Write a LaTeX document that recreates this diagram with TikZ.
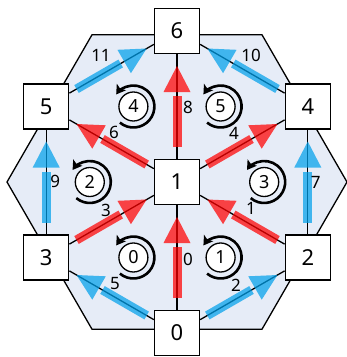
\documentclass[tikz,border=0pt]{standalone}
\usepackage{fontspec}
\setmainfont{Noto Sans}
\usetikzlibrary{calc,arrows.meta}

\definecolor{hexbg}{RGB}{230,236,247}
\definecolor{flowred}{RGB}{255,0,0}
\definecolor{flowblue}{RGB}{0,160,235}

\tikzset{
  vbox/.style={draw, line width=1.3pt, fill=white, minimum size=45pt, inner sep=0pt,
               font=\fontsize{22}{26}\selectfont},
  link/.style={line width=1.3pt},
  elab/.style={inner sep=0pt, font=\fontsize{17}{20}\selectfont},
  flab/.style={draw, circle, line width=1.3pt, fill=white, minimum size=29pt, inner sep=0pt,
               font=\fontsize{18}{21}\selectfont},
  turn/.style={line width=2.6pt, -{Stealth[length=9pt,width=11pt,inset=2pt]}},
}

% thick translucent flow arrow along the link from #2 to #3
\newcommand\flowarrow[3]{%
  \coordinate (fa-tip) at ($(#3)!35pt!(#2)$);
  \coordinate (fa-base) at ($(#3)!61pt!(#2)$);
  \draw[#1, line width=9pt, opacity=0.72] ($(#2)!35pt!(#3)$) -- ($(#3)!65pt!(#2)$);
  \fill[#1, opacity=0.72] (fa-tip) -- ($(fa-base)!13.5pt!90:(fa-tip)$)
    -- ($(fa-base)!13.5pt!-90:(fa-tip)$) -- cycle;
}

% numbered face with a counter-clockwise turning arrow around it
\newcommand\face[5]{%
  \node[flab] (#1) at ($0.33333*(#2)+0.33333*(#3)+0.33334*(#4)$) {#5};
  \draw[turn] (#1.center) ++(-230:21) arc[start angle=-230, end angle=-505, radius=21];
}

\begin{document}
\begin{tikzpicture}[x=1pt, y=-1pt]
  \useasboundingbox (0,0) rectangle (347,357);

  % hexagonal background
  \coordinate (mid) at (177,182);
  \draw[line width=1.3pt, fill=hexbg]
    ($(mid)+(0:170)$) -- ($(mid)+(60:170)$) -- ($(mid)+(120:170)$)
    -- ($(mid)+(180:170)$) -- ($(mid)+(240:170)$) -- ($(mid)+(300:170)$) -- cycle;

  % vertices
  \node[vbox] (n0) at (177,333)   {0};
  \node[vbox] (n1) at (177,182)   {1};
  \node[vbox] (n2) at (307.8,257.5) {2};
  \node[vbox] (n3) at (46.2,257.5)  {3};
  \node[vbox] (n4) at (307.8,106.5) {4};
  \node[vbox] (n5) at (46.2,106.5)  {5};
  \node[vbox] (n6) at (177,31)    {6};

  % links
  \draw[link] (n0) -- (n1);
  \draw[link] (n2) -- (n1);
  \draw[link] (n0) -- (n2);
  \draw[link] (n3) -- (n1);
  \draw[link] (n1) -- (n4);
  \draw[link] (n0) -- (n3);
  \draw[link] (n1) -- (n5);
  \draw[link] (n2) -- (n4);
  \draw[link] (n1) -- (n6);
  \draw[link] (n3) -- (n5);
  \draw[link] (n4) -- (n6);
  \draw[link] (n5) -- (n6);

  % flows
  \flowarrow{flowred}{n0}{n1}
  \flowarrow{flowred}{n2}{n1}
  \flowarrow{flowblue}{n0}{n2}
  \flowarrow{flowred}{n3}{n1}
  \flowarrow{flowred}{n1}{n4}
  \flowarrow{flowblue}{n0}{n3}
  \flowarrow{flowred}{n1}{n5}
  \flowarrow{flowblue}{n2}{n4}
  \flowarrow{flowred}{n1}{n6}
  \flowarrow{flowblue}{n3}{n5}
  \flowarrow{flowblue}{n4}{n6}
  \flowarrow{flowblue}{n5}{n6}

  % link labels
  \path (n0) -- node[elab, shift={(11,1.5)}]     {0}  (n1);
  \path (n2) -- node[elab, shift={(8.6,-11.8)}]  {1}  (n1);
  \path (n0) -- node[elab, shift={(-6.4,-10.3)}] {2}  (n2);
  \path (n3) -- node[elab, shift={(-5.6,-9.8)}]  {3}  (n1);
  \path (n1) -- node[elab, shift={(-8.4,-11.3)}] {4}  (n4);
  \path (n0) -- node[elab, shift={(3.4,-11.3)}]  {5}  (n3);
  \path (n1) -- node[elab, shift={(2.4,-12.3)}]  {6}  (n5);
  \path (n2) -- node[elab, shift={(8,0)}]        {7}  (n4);
  \path (n1) -- node[elab, shift={(11,0.5)}]     {8}  (n6);
  \path (n3) -- node[elab, shift={(9,-1)}]       {9}  (n5);
  \path (n4) -- node[elab, shift={(8.6,-13.8)}]  {10} (n6);
  \path (n5) -- node[elab, shift={(-10.6,-13.8)}]{11} (n6);

  % faces
  \face{f0}{n0}{n1}{n3}{0}
  \face{f1}{n0}{n1}{n2}{1}
  \face{f2}{n1}{n3}{n5}{2}
  \face{f3}{n1}{n2}{n4}{3}
  \face{f4}{n1}{n5}{n6}{4}
  \face{f5}{n1}{n4}{n6}{5}
\end{tikzpicture}
\end{document}
